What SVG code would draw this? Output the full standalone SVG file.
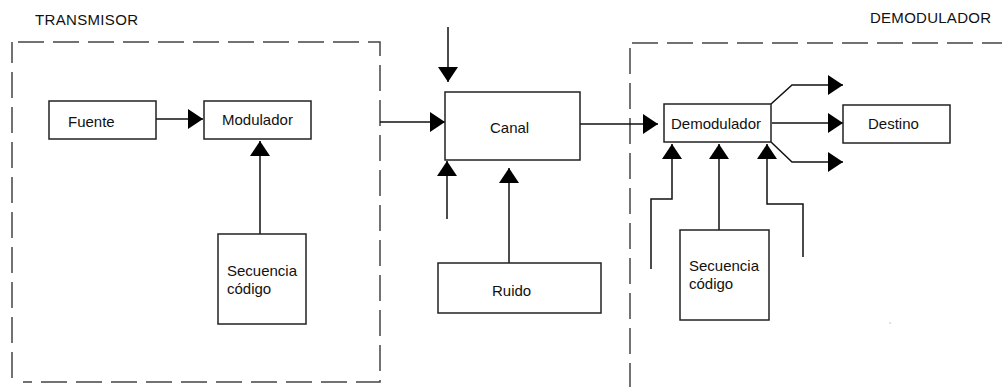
<svg xmlns="http://www.w3.org/2000/svg" width="1002" height="387" viewBox="0 0 1002 387">
<style>
.box{fill:#fff;stroke:#222;stroke-width:1.5}
.dash{fill:none;stroke:#444;stroke-width:1.5;stroke-dasharray:26 9}
.ln{fill:none;stroke:#111;stroke-width:1.5}
text{font-family:"Liberation Sans",Arial,sans-serif;font-size:15px;fill:#111}
</style>
<defs>
<marker id="ah" markerUnits="userSpaceOnUse" markerWidth="16" markerHeight="22" refX="15" refY="10" orient="auto" viewBox="0 0 16 22">
<path d="M0,0 L15,10 L0,20 Z" fill="#000"/>
</marker>
</defs>
<rect width="1002" height="387" fill="#fff"/>
<g id="transmisor-frame">
<path class="dash" d="M18,42 H380 V382 H23 M12,378 V42"/>
<text x="35" y="25" textLength="103">TRANSMISOR</text>
</g>
<g id="demodulador-frame">
<path class="dash" d="M632,43 H1002 M630,48 V387"/>
<text x="870" y="23" textLength="121">DEMODULADOR</text>
</g>
<g id="connectors">
<line class="ln" x1="153" y1="119" x2="203" y2="119" marker-end="url(#ah)"/>
<line class="ln" x1="260" y1="234" x2="260" y2="141" marker-end="url(#ah)"/>
<line class="ln" x1="380" y1="122" x2="445" y2="122" marker-end="url(#ah)"/>
<line class="ln" x1="448" y1="27" x2="448" y2="82" marker-end="url(#ah)"/>
<line class="ln" x1="447" y1="219" x2="447" y2="161" marker-end="url(#ah)"/>
<line class="ln" x1="509" y1="263" x2="509" y2="168" marker-end="url(#ah)"/>
<line class="ln" x1="578" y1="124" x2="658" y2="124" marker-end="url(#ah)"/>
<polyline class="ln" points="771,104 792,85 843,85" marker-end="url(#ah)"/>
<line class="ln" x1="772" y1="123" x2="843" y2="123" marker-end="url(#ah)"/>
<polyline class="ln" points="771,142 792,162 843,162" marker-end="url(#ah)"/>
<polyline class="ln" points="651,269 651,199 672,199 672,144" marker-end="url(#ah)"/>
<line class="ln" x1="719" y1="230" x2="719" y2="144" marker-end="url(#ah)"/>
<polyline class="ln" points="803,257 803,204 767,204 767,144" marker-end="url(#ah)"/>
</g>
<g id="fuente">
<rect class="box" x="49" y="101" width="107" height="38"/>
<text x="68" y="127">Fuente</text>
</g>
<g id="modulador">
<rect class="box" x="204" y="101" width="107" height="38"/>
<text x="222" y="125">Modulador</text>
</g>
<g id="secuencia-tx">
<rect class="box" x="218" y="234" width="88" height="90"/>
<text x="227" y="276">Secuencia</text>
<text x="227" y="294">código</text>
</g>
<g id="canal">
<rect class="box" x="445" y="92" width="135" height="68"/>
<text x="490" y="133">Canal</text>
</g>
<g id="ruido">
<rect class="box" x="438" y="263" width="163" height="50"/>
<text x="492" y="296">Ruido</text>
</g>
<g id="demodulador">
<rect class="box" x="664" y="104" width="107" height="38"/>
<text x="671" y="129">Demodulador</text>
</g>
<g id="destino">
<rect class="box" x="843" y="105" width="107" height="38"/>
<text x="868" y="129">Destino</text>
</g>
<g id="secuencia-rx">
<rect class="box" x="680" y="230" width="89" height="90"/>
<text x="689" y="271">Secuencia</text>
<text x="689" y="289">código</text>
</g>
<rect x="889.5" y="322.5" width="1" height="1" fill="#888"/>
</svg>
